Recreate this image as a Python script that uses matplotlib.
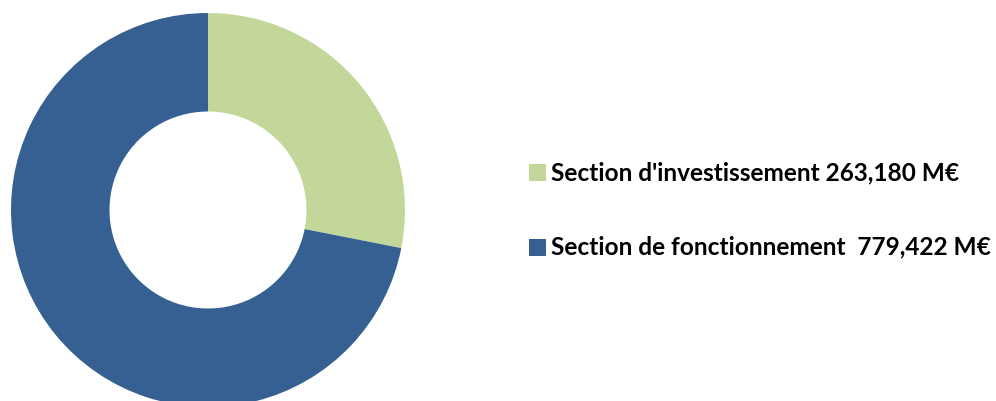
import matplotlib
matplotlib.use("Agg")
from matplotlib import pyplot as plt
from matplotlib.patches import Rectangle

labels = ["Section d'investissement 263,180 M€", "Section de fonctionnement  779,422 M€"]
# slice shares as drawn in the picture (green arc ends ~11 deg below horizontal)
shares = [28.1, 71.9]
colors = ["#C4D79B", "#376092"]

W, H = 996, 401
fig = plt.figure(figsize=(W / 100, H / 100), dpi=100)

# donut: centre (208, 210) px from top-left, outer radius 197 px
cx, cy, r = 208, H - 210, 197
ax = fig.add_axes([(cx - r) / W, (cy - r) / H, 2 * r / W, 2 * r / H])
ax.pie(shares, colors=colors, startangle=90, counterclock=False, radius=1,
       wedgeprops=dict(width=0.5, edgecolor="none"))
ax.set_xlim(-1, 1)
ax.set_ylim(-1, 1)
ax.set_aspect("equal")
ax.axis("off")

# legend drawn by hand
rows_y = [173, 247]
for lab, col, y in zip(labels, colors, rows_y):
    fig.patches.append(Rectangle((529 / W, (H - y - 8.5) / H), 17 / W, 17 / H,
                                 transform=fig.transFigure, facecolor=col,
                                 edgecolor="none"))
    fig.text(551 / W, (H - y) / H, lab, fontsize=17.6, fontweight="bold",
             family="Lato", va="center", ha="left", color="black")

fig.savefig("out.png", dpi=100)
